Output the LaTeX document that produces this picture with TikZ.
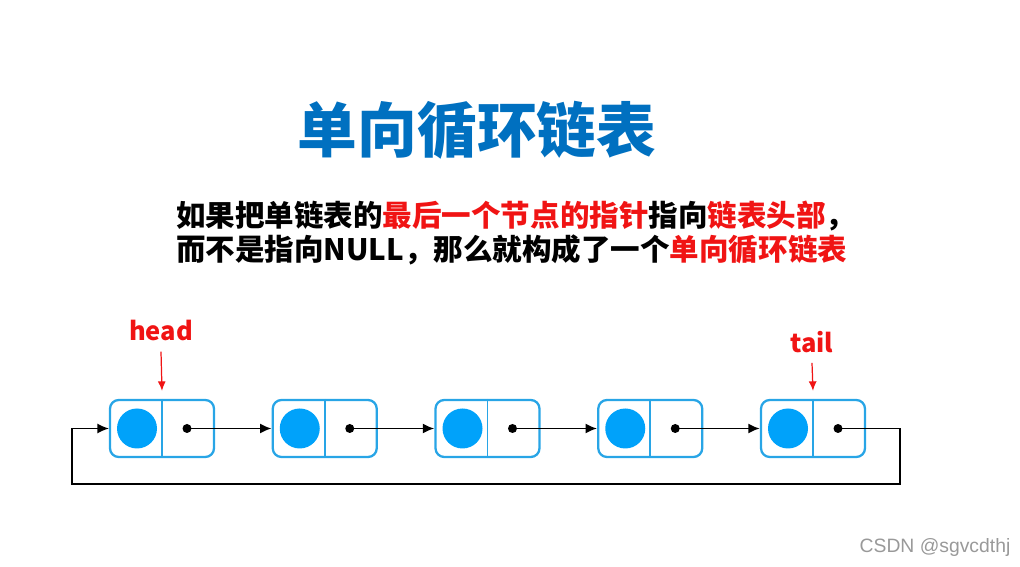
\documentclass[tikz,border=0pt]{standalone}
\usepackage{fontspec}
\newfontfamily\cjk{Noto Sans CJK SC}
\setsansfont{Liberation Sans}
\usepackage{xcolor}
\usepackage{tikz}
\usetikzlibrary{arrows.meta, positioning}

\definecolor{titleBlue}{RGB}{0,112,192}
\definecolor{boxBlue}{RGB}{40,165,230}
\definecolor{dataBlue}{RGB}{0,162,250}
\definecolor{markRed}{RGB}{240,20,20}

\tikzset{
    listnode/.style={draw=boxBlue, line width=1.3pt, rounded corners=5pt,
        minimum width=2.08cm, minimum height=1.14cm, inner sep=0pt},
    datadot/.style={circle, fill=dataBlue, minimum size=0.8cm, inner sep=0pt},
    nextptr/.style={-{Latex[length=2.3mm,width=2mm]}, line width=1.05pt, black},
    labelptr/.style={-{Latex[length=1.9mm,width=1.6mm]}, line width=0.7pt, markRed},
    ptrlabel/.style={markRed, font=\cjk\bfseries\fontsize{14.5}{18}\selectfont}
}

\begin{document}
\begin{tikzpicture}
    \useasboundingbox (0,0) rectangle (20.4,11.34);

    % ==========================================
    % 1. TITOLO E TESTO
    % ==========================================
    \node[titleBlue, font=\cjk\bfseries\fontsize{34}{40}\selectfont] (title) at (9.54,8.74) {单向循环链表};

    \node[anchor=west, font=\cjk\bfseries\fontsize{16.8}{20}\selectfont] (line1) at (3.4,7.02)
        {如果把单链表的\textcolor{markRed}{最后一个节点的指针}指向\textcolor{markRed}{链表头部}，};
    \node[anchor=west, font=\cjk\bfseries\fontsize{16.8}{20}\selectfont] (line2) at (3.4,6.34)
        {而不是指向NULL，那么就构成了一个\textcolor{markRed}{单向循环链表}};

    % ==========================================
    % 2. I NODI DELLA LISTA
    % ==========================================
    \foreach \i in {1,...,5} {
        \node[listnode] (n\i) at ({3.24+3.255*(\i-1)},2.77) {};
        \draw[boxBlue, line width=1.1pt] (n\i.north) -- (n\i.south);
        \node[datadot] (d\i) at ([xshift=-0.5cm]n\i.center) {};
        \fill[black] ([xshift=0.5cm]n\i.center) circle (0.09) coordinate (p\i);
    }

    % ==========================================
    % 3. LE FRECCE
    % ==========================================
    \foreach \i/\j in {1/2,2/3,3/4,4/5}
        \draw[nextptr] (p\i) -- (n\j.west);

    % ritorno dalla coda alla testa
    \coordinate (loopR) at (18.0,1.66);
    \coordinate (loopL) at (1.44,1.66);
    \draw[nextptr, line width=0.75pt] (p5) -| (loopR) -- (loopL) |- (n1.west);

    % head e tail
    \node[ptrlabel] (head) at (3.22,4.72) {head};
    \draw[labelptr] ([yshift=-0.08cm]head.south) -- ([yshift=0.16cm]n1.north);
    \node[ptrlabel] (tail) at (16.24,4.5) {tail};
    \draw[labelptr] ([yshift=-0.08cm]tail.south) -- ([yshift=0.16cm]n5.north);

    % watermark
    \node[gray!80, font=\sffamily\fontsize{11}{13}\selectfont] (mark) at (18.7,0.38) {CSDN @sgvcdthj};

\end{tikzpicture}
\end{document}
